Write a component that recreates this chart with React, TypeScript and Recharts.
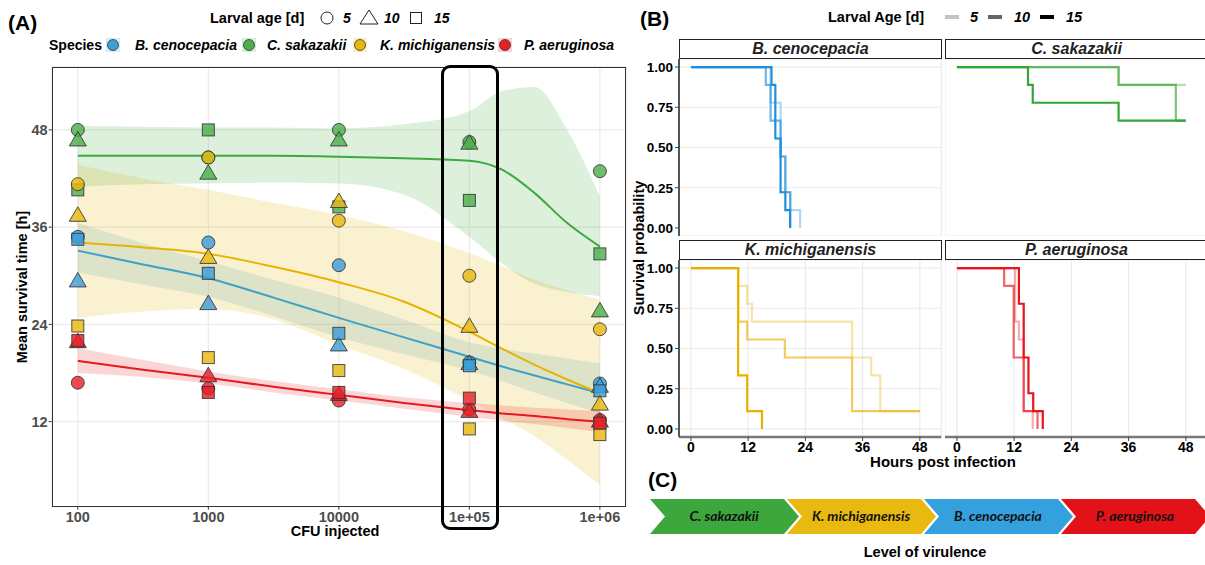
import React from 'react';
import {
  ComposedChart,
  LineChart,
  Line,
  Area,
  Scatter,
  XAxis,
  YAxis,
  CartesianGrid,
} from 'recharts';

const FONT = '"Liberation Sans", Arial, Helvetica, sans-serif';

// ---------- (A) mean survival time vs CFU ----------
const cfuInjected = [100, 1000, 10000, 100000, 1000000];
const cfuLabels = ['100', '1000', '10000', '1e+05', '1e+06'];
const survivalTicks = [12, 24, 36, 48];
const larvalAges = [5, 10, 15];

// mean survival time [h], one value per CFU dose
const bcen5 = [34.8, 34.1, 31.3, 19.3, 16.7];
const bcen10 = [29.3, 26.5, 21.4, 19.1, 16.3];
const bcen15 = [34.5, 30.3, 22.9, 18.9, 15.8];
const csak5 = [48.0, 44.6, 48.0, 46.5, 42.9];
const csak10 = [46.7, 42.6, 46.7, 46.3, 25.6];
const csak15 = [40.6, 48.0, 38.5, 39.3, 32.7];
const kmic5 = [41.3, 44.6, 36.8, 30.0, 23.4];
const kmic10 = [37.4, 32.2, 39.1, 23.7, 14.1];
const kmic15 = [23.8, 19.9, 18.3, 11.1, 10.4];
const paer5 = [16.8, 16.1, 14.6, 13.5, 12.2];
const paer10 = [21.8, 17.6, 15.3, 13.2, 12.0];
const paer15 = [22.0, 15.6, 15.6, 14.9, 11.8];

const smoothCfu = [100, 316, 1000, 3162, 10000, 31623, 100000, 177828, 316228, 562341, 1000000];
const bcenFit = [33.1, 31.4, 29.7, 27.3, 24.8, 22.4, 20.0, 18.8, 17.7, 16.6, 15.5];
const bcenLo = [30.4, 28.9, 27.4, 25.0, 22.4, 20.3, 18.3, 17.0, 15.6, 14.3, 13.0];
const bcenHi = [36.5, 34.0, 31.8, 29.5, 27.3, 24.6, 21.8, 21.0, 20.4, 19.8, 19.2];
const csakFit = [44.8, 44.8, 44.8, 44.8, 44.7, 44.5, 44.2, 43.1, 40.2, 36.5, 33.6];
const csakLo = [41.0, 41.3, 41.4, 41.5, 41.4, 40.0, 34.8, 31.5, 29.0, 28.0, 27.5];
const csakHi = [48.5, 48.4, 48.3, 48.3, 48.2, 48.7, 50.3, 52.8, 53.3, 48.0, 39.8];
const kmicFit = [34.1, 33.5, 32.7, 31.1, 29.2, 26.8, 23.1, 21.0, 19.0, 17.2, 15.5];
const kmicLo = [24.8, 25.6, 25.9, 24.6, 21.5, 18.5, 14.6, 12.4, 10.2, 7.3, 4.2];
const kmicHi = [43.7, 42.0, 40.6, 39.0, 37.5, 35.5, 32.8, 31.2, 29.5, 28.2, 27.0];
const paerFit = [19.5, 18.4, 17.4, 16.3, 15.3, 14.3, 13.4, 13.0, 12.7, 12.3, 12.0];
const paerLo = [18.0, 17.5, 16.7, 15.6, 14.6, 13.6, 12.6, 12.1, 11.7, 11.2, 10.7];
const paerHi = [21.1, 19.6, 18.2, 17.0, 16.0, 15.0, 14.3, 14.0, 13.7, 13.5, 13.3];

const species = [
  { key: 'bcen', name: 'B. cenocepacia', point: '#3D9ED8', line: '#3FA0C8', km: '#1F8FDA', means: [bcen5, bcen10, bcen15] },
  { key: 'csak', name: 'C. sakazakii', point: '#4DAE4D', line: '#3DAA3D', km: '#35A535', means: [csak5, csak10, csak15] },
  { key: 'kmic', name: 'K. michiganensis', point: '#E8B80F', line: '#E6B400', km: '#E8B100', means: [kmic5, kmic10, kmic15] },
  { key: 'paer', name: 'P. aeruginosa', point: '#E5222A', line: '#E8191E', km: '#E8131B', means: [paer5, paer10, paer15] },
];

const smoothRows = smoothCfu.map((c, i) => ({
  cfu: c,
  bcenFit: bcenFit[i],
  bcenBand: [bcenLo[i], bcenHi[i]],
  csakFit: csakFit[i],
  csakBand: [csakLo[i], csakHi[i]],
  kmicFit: kmicFit[i],
  kmicBand: [kmicLo[i], kmicHi[i]],
  paerFit: paerFit[i],
  paerBand: [paerLo[i], paerHi[i]],
}));

// ---------- (B) Kaplan-Meier curves: [hour, survival] ----------
const kmHours = [0, 12, 24, 36, 48];
const kmProbs = [0, 0.25, 0.5, 0.75, 1];
const bcenKm5 = [[0, 1], [16.7, 0.778], [18.8, 0.444], [19.8, 0.222], [20.9, 0.111], [22.9, 0]];
const bcenKm10 = [[0, 1], [15.7, 0.889], [16.7, 0.667], [18.8, 0.444], [19.8, 0.222], [20.8, 0]];
const bcenKm15 = [[0, 1], [16.9, 0.889], [17.7, 0.556], [18.8, 0.222], [19.8, 0.111], [20.8, 0]];
const csakKm5 = [[0, 1], [33.9, 0.889], [48, 0.889]];
const csakKm10 = [[0, 1], [33.9, 0.889], [45.9, 0.667], [48, 0.667]];
const csakKm15 = [[0, 1], [14.9, 0.889], [15.9, 0.778], [33.9, 0.667], [48, 0.667]];
const kmicKm5 = [[0, 1], [9.9, 0.889], [11.8, 0.778], [12.8, 0.667], [33.8, 0.444], [37.8, 0.333], [39.7, 0.111], [48, 0.111]];
const kmicKm10 = [[0, 1], [9.9, 0.667], [11.8, 0.556], [19.7, 0.444], [33.8, 0.111], [48, 0.111]];
const kmicKm15 = [[0, 1], [9.9, 0.333], [11.8, 0.111], [14.9, 0]];
const paerKm5 = [[0, 1], [12.2, 0.667], [13.0, 0.556], [14.0, 0.111], [15.9, 0]];
const paerKm10 = [[0, 1], [9.9, 0.889], [11.9, 0.444], [14.0, 0.111], [16.9, 0]];
const paerKm15 = [[0, 1], [13.0, 0.778], [14.0, 0.444], [15.0, 0.222], [16.0, 0.111], [18.0, 0]];

// ---------- (C) ----------
const virulenceOrder = ['C. sakazakii', 'K. michiganensis', 'B. cenocepacia', 'P. aeruginosa'];
const virulenceColors = ['#3DA63D', '#E9B90F', '#35A0DE', '#E31218'];

const ageOpacity = [0.35, 0.65, 1];

function Txt({ x, y, children, size = 14, bold = true, italic = false, anchor = 'middle', color = '#000', rotate = 0, family = FONT }: any) {
  const tx = anchor === 'middle' ? '-50%' : anchor === 'end' ? '-100%' : '0';
  return (
    <div
      style={{
        position: 'absolute',
        left: x,
        top: y,
        transform: `translate(${tx}, -50%) rotate(${rotate}deg)`,
        transformOrigin: anchor === 'middle' ? 'center' : 'left center',
        fontSize: size,
        fontWeight: bold ? 700 : 400,
        fontStyle: italic ? 'italic' : 'normal',
        color,
        whiteSpace: 'nowrap',
        fontFamily: family,
        lineHeight: 1,
      }}
    >
      {children}
    </div>
  );
}

function Marker(props: any) {
  const { cx, cy, payload, fill } = props;
  if (cx == null || cy == null) return null;
  const common = { fill, fillOpacity: 0.82, stroke: '#333', strokeWidth: 1, strokeOpacity: 0.85 };
  if (payload.age === 5) return <circle cx={cx} cy={cy} r={6.5} {...common} />;
  if (payload.age === 10)
    return <polygon points={`${cx},${cy - 9} ${cx + 8.5},${cy + 5.5} ${cx - 8.5},${cy + 5.5}`} {...common} />;
  return <rect x={cx - 6} y={cy - 6} width={12} height={12} {...common} />;
}

function PanelA() {
  return (
    <>
      <div style={{ position: 'absolute', left: 0, top: 0 }}>
        <ComposedChart
          width={640}
          height={545}
          data={smoothRows}
          margin={{ top: 66.7, right: 14, bottom: 14.3, left: 6.7 }}
        >
          <CartesianGrid stroke="#EBEBEB" strokeWidth={1.2} />
          <XAxis
            type="number"
            dataKey="cfu"
            scale="log"
            domain={[63.1, 1584893]}
            ticks={cfuInjected}
            tickFormatter={(v: number) => cfuLabels[cfuInjected.indexOf(v)] ?? ''}
            allowDataOverflow
            height={24}
            axisLine={false}
            tickLine={{ stroke: '#333' }}
            tickSize={3}
            tickMargin={2}
            tick={{ fill: '#4D4D4D', fontSize: 14.5, fontWeight: 700 }}
          />
          <YAxis
            type="number"
            domain={[1.5, 55.8]}
            ticks={survivalTicks}
            allowDataOverflow
            width={45}
            axisLine={false}
            tickLine={{ stroke: '#333' }}
            tickSize={3}
            tickMargin={1}
            tick={{ fill: '#4D4D4D', fontSize: 14.5, fontWeight: 700 }}
          />
          {species.map((s) => (
            <Area
              key={s.key + 'band'}
              type="monotone"
              dataKey={s.key + 'Band'}
              fill={s.line}
              fillOpacity={0.18}
              stroke="none"
              isAnimationActive={false}
            />
          ))}
          {species.map((s) => (
            <Line
              key={s.key + 'fit'}
              type="monotone"
              dataKey={s.key + 'Fit'}
              stroke={s.line}
              strokeWidth={2}
              dot={false}
              isAnimationActive={false}
            />
          ))}
          {species.map((s) => (
            <Scatter
              key={s.key + 'pts'}
              data={larvalAges.flatMap((age, a) =>
                cfuInjected.map((c, i) => ({ cfu: c, mst: s.means[a][i], age }))
              )}
              dataKey="mst"
              fill={s.point}
              shape={(p: any) => <Marker {...p} fill={s.point} />}
              isAnimationActive={false}
            />
          ))}
        </ComposedChart>
      </div>
      {/* panel border */}
      <div
        style={{
          position: 'absolute',
          left: 51.7,
          top: 66.7,
          width: 574.3,
          height: 440,
          border: '1px solid #333',
          boxSizing: 'border-box',
        }}
      />
      {/* highlight around 1e+05 */}
      <div
        style={{
          position: 'absolute',
          left: 440.7,
          top: 65,
          width: 58.6,
          height: 465,
          border: '3.5px solid #000',
          borderRadius: 9,
          boxSizing: 'border-box',
        }}
      />
      <Txt x={22} y={287} rotate={-90} size={14.5}>Mean survival time [h]</Txt>
      <Txt x={335} y={531} size={14.5}>CFU injected</Txt>
      <Txt x={8} y={22} size={21} anchor="start">(A)</Txt>

      {/* legends */}
      <Txt x={210} y={18} anchor="start" size={14.5}>Larval age [d]</Txt>
      <svg style={{ position: 'absolute', left: 0, top: 0 }} width={640} height={60}>
        <circle cx={327} cy={18} r={6} fill="none" stroke="#222" strokeWidth={1} />
        <polygon points="369,10 378,24 360,24" fill="none" stroke="#222" strokeWidth={1} />
        <rect x={410.5} y={12.5} width={11} height={11} fill="none" stroke="#222" strokeWidth={1} />
        {species.map((s, i) => {
          const cx = [113, 249, 360, 505][i];
          return (
            <g key={s.key}>
              <rect x={cx - 7} y={38} width={14} height={14} fill={s.line} fillOpacity={0.2} />
              <circle cx={cx} cy={45} r={5.5} fill={s.point} stroke="#333" strokeWidth={0.8} />
            </g>
          );
        })}
      </svg>
      <Txt x={343} y={18} italic anchor="start">5</Txt>
      <Txt x={384} y={18} italic anchor="start">10</Txt>
      <Txt x={434} y={18} italic anchor="start">15</Txt>
      <Txt x={49} y={45} anchor="start">Species</Txt>
      {species.map((s, i) => (
        <Txt key={s.key} x={[135, 267, 380, 524][i]} y={45} italic anchor="start">
          {s.name}
        </Txt>
      ))}
    </>
  );
}

const FW = 262.3;
const FH = 177;

function Facet({ name, color, curves, x, y, showY, showX }: any) {
  const ml = showY ? 60 : 0;
  const mb = showX ? 24 : 0;
  return (
    <>
      <div style={{ position: 'absolute', left: x - ml, top: y }}>
        <LineChart width={ml + FW} height={FH + mb} margin={{ top: 0, right: 0, bottom: 0, left: 0 }}>
          <CartesianGrid stroke="#EBEBEB" strokeWidth={1.2} />
          <XAxis
            type="number"
            dataKey="t"
            domain={[-2.5, 52.5]}
            ticks={kmHours}
            allowDataOverflow
            height={mb}
            axisLine={showX ? { stroke: '#777', strokeWidth: 2.5 } : false}
            tickLine={showX ? { stroke: '#444' } : false}
            tick={showX ? { fill: '#000', fontSize: 14, fontWeight: 700 } : false}
            tickSize={4}
            tickMargin={1}
          />
          <YAxis
            type="number"
            domain={[-0.05, 1.05]}
            ticks={kmProbs}
            allowDataOverflow
            width={ml}
            axisLine={showY ? { stroke: '#555', strokeWidth: 2 } : false}
            tickLine={showY ? { stroke: '#444' } : false}
            tick={showY ? { fill: '#000', fontSize: 13.5, fontWeight: 700 } : false}
            tickFormatter={(v: number) => v.toFixed(2)}
            tickSize={4}
            tickMargin={2}
          />
          {curves.map((c: number[][], i: number) => (
            <Line
              key={i}
              data={c.map(([t, s]) => ({ t, s }))}
              dataKey="s"
              type="stepAfter"
              stroke={color}
              strokeOpacity={ageOpacity[i]}
              strokeWidth={2.2}
              dot={false}
              isAnimationActive={false}
            />
          ))}
        </LineChart>
      </div>
      <div
        style={{
          position: 'absolute',
          left: x,
          top: y - 20.5,
          width: FW,
          height: 20.5,
          border: '1px solid #222',
          boxSizing: 'border-box',
          background: '#fff',
          display: 'flex',
          alignItems: 'center',
          justifyContent: 'center',
          fontSize: 16,
          fontWeight: 700,
          fontStyle: 'italic',
          color: '#222',
        }}
      >
        {name}
      </div>
    </>
  );
}

function PanelB() {
  const [bcen, csak, kmic, paer] = species;
  return (
    <>
      <Txt x={640} y={18} size={21} anchor="start">(B)</Txt>
      <Txt x={828} y={17} anchor="start" size={14.5}>Larval Age [d]</Txt>
      <svg style={{ position: 'absolute', left: 940, top: 0 }} width={130} height={30}>
        <line x1={5} x2={19} y1={17} y2={17} stroke="#C4C4C4" strokeWidth={4} />
        <line x1={48} x2={62} y1={17} y2={17} stroke="#666" strokeWidth={4} />
        <line x1={100} x2={114} y1={17} y2={17} stroke="#000" strokeWidth={4} />
      </svg>
      <Txt x={970} y={17} italic anchor="start" size={14.5}>5</Txt>
      <Txt x={1014} y={17} italic anchor="start" size={14.5}>10</Txt>
      <Txt x={1066} y={17} italic anchor="start" size={14.5}>15</Txt>

      <Facet name={bcen.name} color={bcen.km} curves={[bcenKm5, bcenKm10, bcenKm15]} x={679.3} y={59} showY />
      <Facet name={csak.name} color={csak.km} curves={[csakKm5, csakKm10, csakKm15]} x={945.4} y={59} />
      <Facet name={kmic.name} color={kmic.km} curves={[kmicKm5, kmicKm10, kmicKm15]} x={679.3} y={260} showY showX />
      <Facet name={paer.name} color={paer.km} curves={[paerKm5, paerKm10, paerKm15]} x={945.4} y={260} showX />

      <Txt x={639} y={248} rotate={-90} size={14.5}>Survival probability</Txt>
      <Txt x={943} y={461} size={15}>Hours post infection</Txt>
    </>
  );
}

function PanelC() {
  const top = 499;
  const bot = 534;
  const mid = (top + bot) / 2;
  return (
    <>
      <Txt x={648} y={479} size={21} anchor="start">(C)</Txt>
      <svg style={{ position: 'absolute', left: 0, top: 0 }} width={1205} height={565}>
        {virulenceOrder.map((name, i) => {
          const x0 = 650 + 137 * i;
          return (
            <g key={name}>
              <polygon
                points={`${x0},${top} ${x0 + 134},${top} ${x0 + 149},${mid} ${x0 + 134},${bot} ${x0},${bot} ${x0 + 15},${mid}`}
                fill={virulenceColors[i]}
              />
              <text
                x={x0 + 74}
                y={mid}
                dy="0.35em"
                textAnchor="middle"
                fontFamily="Lato, 'Open Sans', sans-serif"
                fontWeight={700}
                fontStyle="italic"
                fontSize={14}
                fill="#111"
              >
                {name}
              </text>
            </g>
          );
        })}
      </svg>
      <Txt x={925} y={552} size={14.5}>Level of virulence</Txt>
    </>
  );
}

export default function App() {
  return (
    <div
      style={{
        position: 'absolute',
        left: 0,
        top: 0,
        width: 1205,
        height: 565,
        overflow: 'hidden',
        background: '#fff',
        fontFamily: FONT,
      }}
    >
      <PanelA />
      <PanelB />
      <PanelC />
    </div>
  );
}
